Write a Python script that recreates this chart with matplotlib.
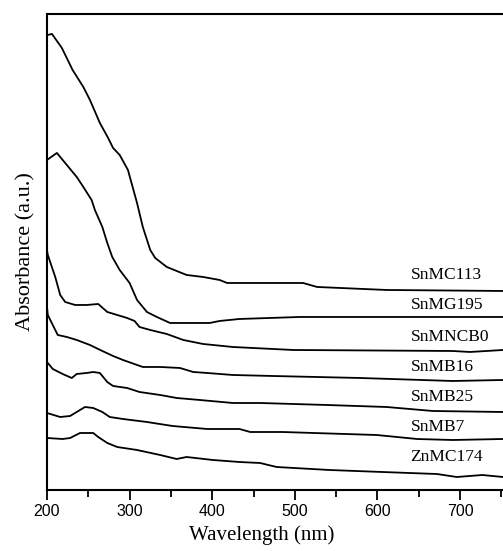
import matplotlib
matplotlib.use("Agg")
import matplotlib.pyplot as plt
from matplotlib.ticker import MultipleLocator

# wavelength (nm) / absorbance (a.u., offset curves)
wl_mc113 = [201, 206, 218, 231, 244, 252, 264, 274, 280, 288, 298, 309, 316, 325, 331, 345, 369, 389, 409, 418, 510, 527, 611, 752]
ab_mc113 = [4.55, 4.56, 4.42, 4.20, 4.03, 3.90, 3.67, 3.52, 3.42, 3.35, 3.20, 2.87, 2.63, 2.40, 2.32, 2.23, 2.15, 2.13, 2.10, 2.07, 2.07, 2.03, 2.00, 1.99]

wl_mg195 = [200, 212, 224, 236, 244, 254, 258, 267, 273, 279, 288, 300, 309, 321, 333, 349, 397, 409, 433, 506, 643, 752]
ab_mg195 = [3.30, 3.37, 3.25, 3.13, 3.03, 2.90, 2.80, 2.63, 2.47, 2.33, 2.20, 2.07, 1.90, 1.78, 1.73, 1.67, 1.67, 1.69, 1.71, 1.73, 1.73, 1.73]

wl_mncb0 = [200, 201, 210, 216, 222, 234, 248, 262, 273, 297, 306, 312, 325, 345, 365, 389, 425, 498, 691, 712, 752]
ab_mncb0 = [2.40, 2.35, 2.13, 1.95, 1.88, 1.85, 1.85, 1.86, 1.78, 1.72, 1.69, 1.63, 1.60, 1.56, 1.50, 1.46, 1.43, 1.40, 1.39, 1.38, 1.40]

wl_mb16 = [200, 201, 213, 224, 236, 252, 267, 280, 292, 316, 337, 361, 377, 394, 425, 473, 579, 691, 752]
ab_mb16 = [1.83, 1.75, 1.55, 1.53, 1.50, 1.45, 1.39, 1.34, 1.30, 1.23, 1.23, 1.22, 1.18, 1.17, 1.15, 1.14, 1.12, 1.09, 1.10]

wl_mb25 = [200, 207, 219, 230, 236, 248, 256, 264, 273, 280, 297, 312, 337, 357, 385, 425, 458, 539, 611, 667, 752]
ab_mb25 = [1.28, 1.21, 1.16, 1.12, 1.16, 1.17, 1.18, 1.17, 1.08, 1.04, 1.02, 0.98, 0.95, 0.92, 0.90, 0.87, 0.87, 0.85, 0.83, 0.79, 0.78]

wl_mb7 = [200, 216, 228, 236, 246, 256, 267, 276, 292, 321, 352, 394, 433, 446, 485, 599, 648, 691, 752]
ab_mb7 = [0.77, 0.73, 0.74, 0.78, 0.83, 0.82, 0.78, 0.73, 0.71, 0.68, 0.64, 0.61, 0.61, 0.58, 0.58, 0.55, 0.51, 0.50, 0.51]

wl_mc174 = [200, 219, 228, 240, 256, 262, 273, 285, 309, 337, 357, 369, 401, 433, 458, 478, 542, 606, 672, 696, 727, 752]
ab_mc174 = [0.52, 0.51, 0.52, 0.57, 0.57, 0.53, 0.47, 0.43, 0.40, 0.35, 0.31, 0.33, 0.30, 0.28, 0.27, 0.23, 0.20, 0.18, 0.16, 0.13, 0.15, 0.13]

curves = [
    ("SnMC113", wl_mc113, ab_mc113, 2.15),
    ("SnMG195", wl_mg195, ab_mg195, 1.85),
    ("SnMNCB0", wl_mncb0, ab_mncb0, 1.53),
    ("SnMB16", wl_mb16, ab_mb16, 1.23),
    ("SnMB25", wl_mb25, ab_mb25, 0.93),
    ("SnMB7", wl_mb7, ab_mb7, 0.63),
    ("ZnMC174", wl_mc174, ab_mc174, 0.33),
]
label_x = 640

serif = ["Liberation Serif", "DejaVu Serif"]

fig = plt.figure(figsize=(5.03, 5.51), dpi=100)
ax = fig.add_axes([0.0934, 0.1107, 0.9066, 0.864])

for name, x, y, ly in curves:
    ax.plot(x, y, color="black", linewidth=1.3)
    ax.text(label_x, ly, name, family=serif, fontsize=12.5, ha="left", va="center")

ax.set_xlim(200, 752)
ax.set_ylim(0, 4.76)
ax.xaxis.set_major_locator(MultipleLocator(100))
ax.xaxis.set_minor_locator(MultipleLocator(50))
ax.set_yticks([])
ax.spines["right"].set_visible(False)
for s in ["left", "top", "bottom"]:
    ax.spines[s].set_linewidth(1.5)
ax.tick_params(axis="x", which="major", direction="out", length=7, width=1.3,
               labelsize=11.5, pad=3)
ax.tick_params(axis="x", which="minor", direction="out", length=5, width=1.3)
for lab in ax.get_xticklabels():
    lab.set_family(["Liberation Sans", "DejaVu Sans"])

ax.set_xlabel("Wavelength (nm)", family=serif, fontsize=15, labelpad=8)
ax.xaxis.set_label_coords(0.47, -0.075)
ax.set_ylabel("Absorbance (a.u.)", family=serif, fontsize=16, labelpad=8)

fig.savefig("out.png", dpi=100)
